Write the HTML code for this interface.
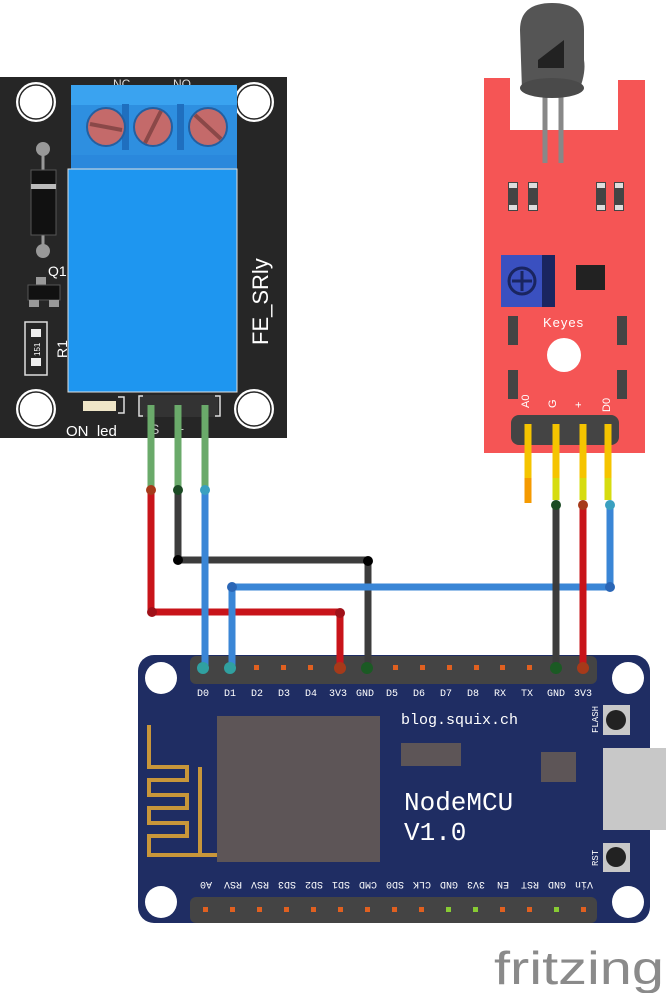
<!DOCTYPE html>
<html><head><meta charset="utf-8"><style>
html,body{margin:0;padding:0;background:#fff;}
svg{display:block;}
text{font-family:"Liberation Sans",sans-serif;}
.m, .m text{font-family:"Liberation Mono",monospace;}
</style></head><body>
<svg width="666" height="993" viewBox="0 0 666 993" xmlns="http://www.w3.org/2000/svg">
<!-- RELAY -->
<rect x="0" y="77" width="287" height="361" fill="#262626"/>
<g fill="#fff" stroke="#262626" stroke-width="2">
<circle cx="36" cy="102" r="21"/><circle cx="254" cy="102" r="21"/>
<circle cx="36" cy="409" r="21"/><circle cx="254" cy="409" r="21"/>
</g>
<g fill="none" stroke="#262626" stroke-width="1.5">
<circle cx="36" cy="102" r="17"/><circle cx="254" cy="102" r="17"/>
<circle cx="36" cy="409" r="17"/><circle cx="254" cy="409" r="17"/>
</g>
<text x="113" y="88" font-size="12" fill="#ddd">NC</text>
<text x="173" y="88" font-size="12" fill="#ddd">NO</text>
<rect x="71" y="85" width="166" height="86" fill="#2e8fe0"/>
<rect x="71" y="85" width="166" height="20" fill="#3aa3f0"/>
<rect x="71" y="155" width="166" height="16" fill="#2a88dc"/>
<rect x="122" y="104" width="7" height="46" fill="#1f6fbf"/>
<rect x="177" y="104" width="7" height="46" fill="#1f6fbf"/>
<g fill="#c46a6a" stroke="#245fa0" stroke-width="2">
<circle cx="106" cy="127" r="19"/><circle cx="153" cy="127" r="19"/><circle cx="208" cy="127" r="19"/>
</g>
<g stroke="#8a4848" stroke-width="4">
<line x1="90" y1="124" x2="122" y2="130"/><line x1="145" y1="143" x2="161" y2="111"/><line x1="195" y1="115" x2="221" y2="139"/>
</g>
<rect x="68" y="169" width="169" height="223" fill="#1e96f0" stroke="#e0e0e0" stroke-width="1"/>
<text transform="translate(268,345) rotate(-90)" font-size="22" fill="#fff">FE_SRly</text>
<!-- diode -->
<line x1="43" y1="149" x2="43" y2="251" stroke="#999" stroke-width="3"/>
<circle cx="43" cy="149" r="7" fill="#999"/><circle cx="43" cy="251" r="7" fill="#999"/>
<rect x="31" y="170" width="25" height="65" fill="#111" stroke="#555" stroke-width="1"/>
<rect x="31" y="184" width="25" height="5" fill="#bbb"/>
<text x="48" y="276" font-size="14" fill="#fff">Q1</text>
<rect x="36" y="277" width="10" height="8" fill="#999"/>
<rect x="28" y="285" width="32" height="15" fill="#111" stroke="#555"/>
<rect x="29" y="300" width="10" height="7" fill="#999"/><rect x="49" y="300" width="10" height="7" fill="#999"/>
<rect x="25" y="322" width="22" height="53" fill="none" stroke="#ddd" stroke-width="1.5"/>
<rect x="31" y="329" width="10" height="8" fill="#eee"/><rect x="31" y="358" width="10" height="8" fill="#eee"/>
<text transform="translate(40,356) rotate(-90)" font-size="8" fill="#fff">151</text>
<text transform="translate(67,358) rotate(-90)" font-size="14" fill="#fff">R1</text>
<rect x="83" y="401" width="33" height="10" fill="#efe6c8"/>
<path d="M118 397 H124 V413 H118" fill="none" stroke="#ddd" stroke-width="1.5"/>
<text x="66" y="436" font-size="15" fill="#fff">ON_led</text>
<rect x="140" y="395" width="78" height="22" fill="#333"/>
<path d="M143 396 H139 V416 H143 M215 396 H220 V416 H215" fill="none" stroke="#ddd" stroke-width="1.5"/>
<text x="150" y="434" font-size="14" fill="#ccc">S</text>
<text x="176" y="434" font-size="14" fill="#ccc">+</text>
<text x="204" y="434" font-size="14" fill="#ccc">-</text>
<g stroke="#6aaa6a" stroke-width="7">
<line x1="151" y1="405" x2="151" y2="490"/><line x1="178" y1="405" x2="178" y2="490"/><line x1="205" y1="405" x2="205" y2="490"/>
</g>
<!-- SENSOR -->
<path d="M484 78 H510 V130 H618 V80 H645 V453 H484 Z" fill="#f55555"/>
<line x1="545" y1="95" x2="545" y2="163" stroke="#888" stroke-width="5"/>
<line x1="561" y1="95" x2="561" y2="163" stroke="#888" stroke-width="5"/>
<path d="M520 30 Q520 3 552 3 Q584 3 584 30 V60 Q586 72 580 88 Q555 100 522 90 Z" fill="#555"/>
<ellipse cx="552" cy="88" rx="32" ry="10" fill="#4a4a4a"/>
<path d="M538 60 L564 40 V68 H538 Z" fill="#222"/>
<g fill="#444">
<rect x="508" y="182" width="10" height="29"/><rect x="528" y="182" width="10" height="29"/>
<rect x="596" y="182" width="10" height="29"/><rect x="614" y="182" width="10" height="29"/>
<rect x="508" y="316" width="10" height="29"/><rect x="617" y="316" width="10" height="29"/>
<rect x="508" y="370" width="10" height="29"/><rect x="617" y="370" width="10" height="29"/>
</g>
<g fill="#ddd">
<rect x="509" y="183" width="8" height="5"/><rect x="529" y="183" width="8" height="5"/><rect x="597" y="183" width="8" height="5"/><rect x="615" y="183" width="8" height="5"/>
<rect x="509" y="205" width="8" height="5"/><rect x="529" y="205" width="8" height="5"/><rect x="597" y="205" width="8" height="5"/><rect x="615" y="205" width="8" height="5"/>
</g>
<rect x="501" y="255" width="54" height="52" fill="#3a50c0"/>
<rect x="542" y="255" width="13" height="52" fill="#1a2560"/>
<circle cx="522" cy="281" r="13" fill="#3a50c0" stroke="#1a2560" stroke-width="3"/>
<path d="M522 271 V291 M512 281 H532" stroke="#1a2560" stroke-width="3"/>
<rect x="576" y="265" width="29" height="25" fill="#222"/>
<text x="543" y="327" font-size="13" fill="#fff" letter-spacing="1">Keyes</text>
<circle cx="564" cy="355" r="17" fill="#fff"/>
<g font-size="11" fill="#fff">
<text transform="translate(529,408) rotate(-90)">A0</text>
<text transform="translate(556,408) rotate(-90)">G</text>
<text transform="translate(582,408) rotate(-90)">+</text>
<text transform="translate(610,412) rotate(-90)">D0</text>
</g>
<rect x="511" y="415" width="108" height="30" rx="8" fill="#444"/>
<g stroke-width="7">
<line x1="528" y1="424" x2="528" y2="478" stroke="#f5c400"/>
<line x1="528" y1="478" x2="528" y2="503" stroke="#f59a00"/>
<line x1="556" y1="424" x2="556" y2="478" stroke="#f5c400"/>
<line x1="556" y1="478" x2="556" y2="500" stroke="#d6dc10"/>
<line x1="583" y1="424" x2="583" y2="478" stroke="#f5c400"/>
<line x1="583" y1="478" x2="583" y2="500" stroke="#d6dc10"/>
<line x1="608" y1="424" x2="608" y2="478" stroke="#f5c400"/>
<line x1="608" y1="478" x2="608" y2="500" stroke="#d6dc10"/>
</g>
<!-- NODEMCU -->
<rect x="138" y="655" width="512" height="268" rx="16" fill="#1f2d63"/>
<g fill="#fff"><circle cx="161" cy="678" r="16"/><circle cx="628" cy="678" r="16"/><circle cx="161" cy="902" r="16"/><circle cx="628" cy="902" r="16"/></g>
<rect x="190" y="656" width="407" height="28" rx="6" fill="#444"/>
<rect x="190" y="897" width="407" height="26" rx="6" fill="#444"/>
<g fill="#e06020">
<rect x="254" y="665" width="5" height="5"/><rect x="281" y="665" width="5" height="5"/><rect x="308" y="665" width="5" height="5"/>
<rect x="393" y="665" width="5" height="5"/><rect x="420" y="665" width="5" height="5"/><rect x="447" y="665" width="5" height="5"/>
<rect x="474" y="665" width="5" height="5"/><rect x="500" y="665" width="5" height="5"/><rect x="527" y="665" width="5" height="5"/>
<rect x="203" y="907" width="5" height="5"/><rect x="230" y="907" width="5" height="5"/><rect x="257" y="907" width="5" height="5"/>
<rect x="284" y="907" width="5" height="5"/><rect x="311" y="907" width="5" height="5"/><rect x="338" y="907" width="5" height="5"/>
<rect x="365" y="907" width="5" height="5"/><rect x="392" y="907" width="5" height="5"/><rect x="419" y="907" width="5" height="5"/>
<rect x="500" y="907" width="5" height="5"/><rect x="527" y="907" width="5" height="5"/><rect x="581" y="907" width="5" height="5"/>
</g>
<g fill="#8c3"><rect x="446" y="907" width="5" height="5"/><rect x="473" y="907" width="5" height="5"/><rect x="554" y="907" width="5" height="5"/></g>
<g class="m" font-size="10" fill="#fff" text-anchor="middle">
<text x="203" y="696">D0</text><text x="230" y="696">D1</text><text x="257" y="696">D2</text><text x="284" y="696">D3</text><text x="311" y="696">D4</text><text x="338" y="696">3V3</text><text x="365" y="696">GND</text><text x="392" y="696">D5</text><text x="419" y="696">D6</text><text x="446" y="696">D7</text><text x="473" y="696">D8</text><text x="500" y="696">RX</text><text x="527" y="696">TX</text><text x="556" y="696">GND</text><text x="583" y="696">3V3</text>
</g>
<g class="m" font-size="10" fill="#fff" text-anchor="middle">
<text transform="translate(206,882) rotate(180)">A0</text><text transform="translate(233,882) rotate(180)">RSV</text><text transform="translate(260,882) rotate(180)">RSV</text><text transform="translate(287,882) rotate(180)">SD3</text><text transform="translate(314,882) rotate(180)">SD2</text><text transform="translate(341,882) rotate(180)">SD1</text><text transform="translate(368,882) rotate(180)">CMD</text><text transform="translate(395,882) rotate(180)">SD0</text><text transform="translate(422,882) rotate(180)">CLK</text><text transform="translate(449,882) rotate(180)">GND</text><text transform="translate(476,882) rotate(180)">3V3</text><text transform="translate(503,882) rotate(180)">EN</text><text transform="translate(530,882) rotate(180)">RST</text><text transform="translate(557,882) rotate(180)">GND</text><text transform="translate(584,882) rotate(180)">Vin</text>
</g>
<path d="M149 725 V767 H187 V780 H149 V795 H187 V808 H149 V823 H187 V836 H149 V855 H218 M200 855 V767" fill="none" stroke="#c8963a" stroke-width="4"/>
<rect x="217" y="716" width="163" height="146" fill="#5d5557"/>
<rect x="401" y="743" width="60" height="23" fill="#5d5557"/>
<rect x="541" y="752" width="35" height="30" fill="#5d5557"/>
<g class="m">
<text x="401" y="724" font-size="15" fill="#fff">blog.squix.ch</text>
<text x="404" y="810" font-size="26" fill="#fff">NodeMCU</text>
<text x="404" y="840" font-size="26" fill="#fff">V1.0</text>
</g>
<rect x="603" y="748" width="63" height="82" fill="#c8c8c8"/>
<rect x="603" y="705" width="27" height="30" fill="#c8c8c8"/><circle cx="616" cy="720" r="10" fill="#222"/>
<rect x="603" y="843" width="27" height="29" fill="#c8c8c8"/><circle cx="616" cy="857" r="10" fill="#222"/>
<g class="m">
<text transform="translate(598,733) rotate(-90)" font-size="9" fill="#fff">FLASH</text>
<text transform="translate(598,866) rotate(-90)" font-size="9" fill="#fff">RST</text>
</g>
<!-- WIRES -->
<g fill="none" stroke-width="7" stroke-linejoin="round">
<path d="M151 490 V612 H340 V668" stroke="#c8141a"/>
<path d="M178 490 V560 H368 V668" stroke="#3c3c3c"/>
<path d="M205 490 V668" stroke="#3a86d6"/>
<path d="M232 668 V587 H610 V503" stroke="#3a86d6"/>
<path d="M556 503 V668" stroke="#3c3c3c"/>
<path d="M583 503 V668" stroke="#c8141a"/>
</g>
<g>
<circle cx="151" cy="490" r="5" fill="#a63a1a"/><circle cx="178" cy="490" r="5" fill="#1b4a24"/><circle cx="205" cy="490" r="5" fill="#3aa0c0"/>
<circle cx="178" cy="560" r="5" fill="#000"/><circle cx="368" cy="561" r="5" fill="#000"/>
<circle cx="152" cy="612" r="5" fill="#a01018"/><circle cx="340" cy="613" r="5" fill="#a01018"/>
<circle cx="232" cy="587" r="5" fill="#2a66b6"/><circle cx="610" cy="587" r="5" fill="#2a66b6"/>
<circle cx="556" cy="505" r="5" fill="#1b4a24"/><circle cx="583" cy="505" r="5" fill="#a63a1a"/><circle cx="610" cy="505" r="5" fill="#3aa0c0"/>
<circle cx="203" cy="668" r="6" fill="#30a0a0"/><circle cx="230" cy="668" r="6" fill="#30a0a0"/>
<circle cx="340" cy="668" r="6" fill="#a63a1a"/><circle cx="367" cy="668" r="6" fill="#1b5a24"/>
<circle cx="556" cy="668" r="6" fill="#1b5a24"/><circle cx="583" cy="668" r="6" fill="#a63a1a"/>
</g>
<text x="494" y="984" font-size="46" fill="#8a8a8a" textLength="170" lengthAdjust="spacingAndGlyphs">fritzing</text>
</svg>
</body></html>
